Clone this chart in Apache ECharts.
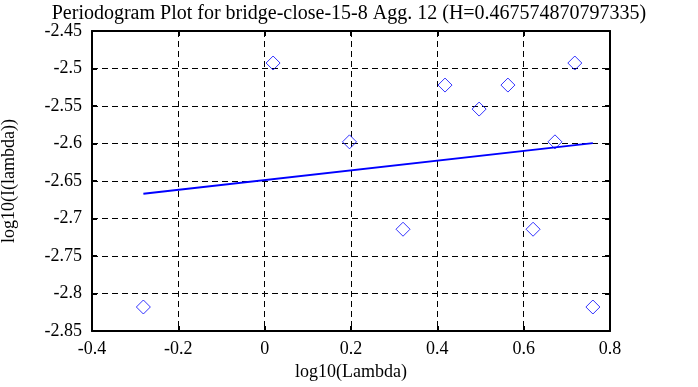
<!DOCTYPE html>
<html>
<head>
<meta charset="utf-8">
<script src="https://cdn.jsdelivr.net/npm/echarts@6/dist/echarts.min.js"></script>
<style>
html,body{margin:0;padding:0;background:#fff;}
#chart{width:698px;height:387px;}
</style>
</head>
<body>
<div id="chart"></div>
<script>
const titleText = 'Periodogram Plot for bridge-close-15-8 Agg. 12 (H=0.467574870797335)';
const logLambda = [-0.2810, 0.0195, 0.1965, 0.3205, 0.4178, 0.4968, 0.5635, 0.6218, 0.6725, 0.7185, 0.7604];
const logI = [-2.818, -2.4927, -2.5978, -2.7143, -2.5221, -2.5541, -2.5221, -2.7143, -2.5978, -2.4927, -2.818];
const fitX = [-0.281, 0.7604];
const fitY = [-2.667, -2.5995];
const xMin = -0.4, xMax = 0.8, xStep = 0.2;
const yMin = -2.85, yMax = -2.45, yStep = 0.05;

const FONT = '"Liberation Serif", "DejaVu Serif", serif';
const chart = echarts.init(document.getElementById('chart'), null, {renderer: 'canvas'});

const baseAxisLine = {show: true, onZero: false, lineStyle: {color: '#000', width: 2}};
const tick = {show: true, inside: true, length: 5, lineStyle: {color: '#000', width: 2}};
const grid = {show: true, lineStyle: {color: '#000', width: 1, type: [6, 4]}};

chart.setOption({
  animation: false,
  backgroundColor: '#fff',
  title: {
    text: titleText,
    left: 'center',
    top: -1,
    textStyle: {fontFamily: FONT, fontSize: 20, fontWeight: 'normal', color: '#000'}
  },
  grid: {left: 92, right: 88, top: 31, bottom: 56, containLabel: false, outerBoundsMode: 'none'},
  xAxis: [
    {
      type: 'value', min: xMin, max: xMax, interval: xStep, position: 'bottom',
      name: 'log10(Lambda)', nameLocation: 'middle', nameGap: 30,
      nameTextStyle: {fontFamily: FONT, fontSize: 18, color: '#000'},
      axisLine: baseAxisLine, axisTick: tick, splitLine: grid,
      axisLabel: {fontFamily: FONT, fontSize: 18, color: '#000', margin: 9,
        formatter: v => String(Math.round(v * 10) / 10)}
    },
    {
      type: 'value', min: xMin, max: xMax, interval: xStep, position: 'top',
      axisLine: baseAxisLine, axisTick: tick, splitLine: {show: false}, axisLabel: {show: false}
    }
  ],
  yAxis: [
    {
      type: 'value', min: yMin, max: yMax, interval: yStep, position: 'left',
      name: 'log10(I(lambda))', nameLocation: 'middle', nameGap: 74, nameRotate: 90,
      nameTextStyle: {fontFamily: FONT, fontSize: 18, color: '#000'},
      axisLine: baseAxisLine, axisTick: tick, splitLine: grid,
      axisLabel: {fontFamily: FONT, fontSize: 18, color: '#000', margin: 10,
        formatter: v => String(Math.round(v * 100) / 100)}
    },
    {
      type: 'value', min: yMin, max: yMax, interval: yStep, position: 'right',
      axisLine: baseAxisLine, axisTick: tick, splitLine: {show: false}, axisLabel: {show: false}
    }
  ],
  series: [
    {
      type: 'line',
      data: fitX.map((x, i) => [x, fitY[i]]),
      showSymbol: false, symbol: 'none',
      lineStyle: {color: '#0000ff', width: 2},
      z: 3
    },
    {
      type: 'scatter',
      data: logLambda.map((x, i) => [x, logI[i]]),
      symbol: 'diamond', symbolSize: [14, 14],
      itemStyle: {color: 'rgba(255,255,255,0)', borderColor: '#0000ff', borderWidth: 1},
      z: 4
    }
  ]
});
</script>
</body>
</html>
